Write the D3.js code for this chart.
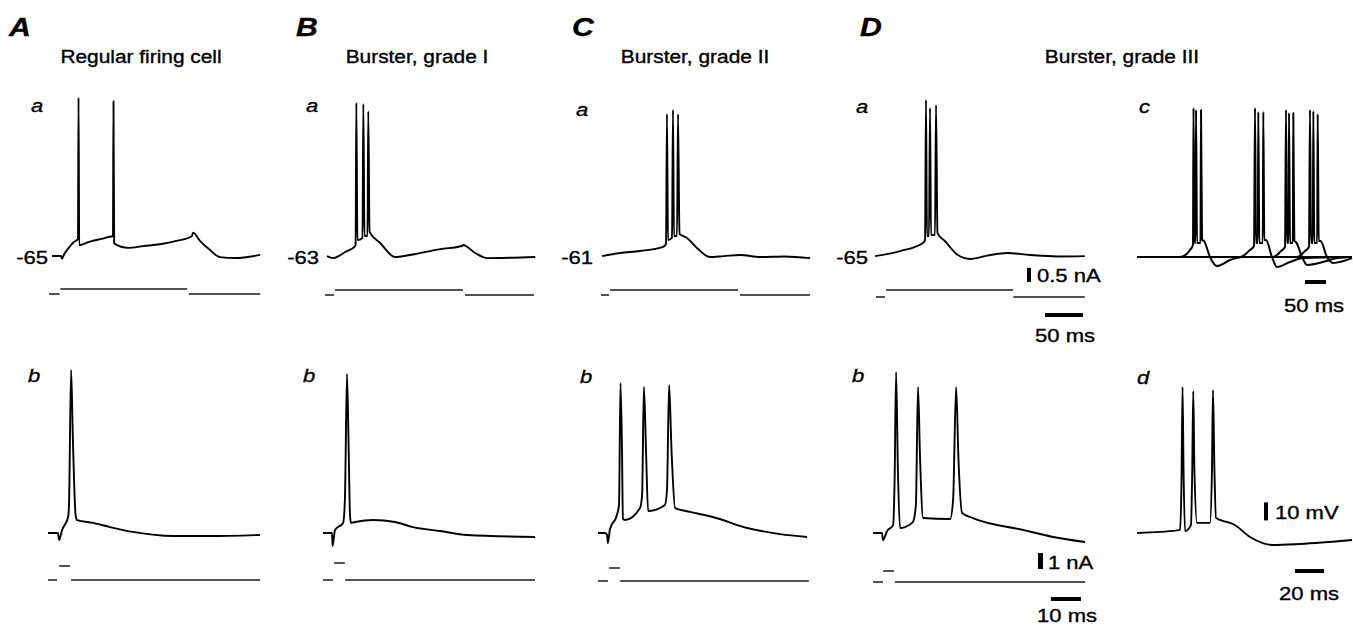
<html lang="en">
<head>
	<script src="https://cdn.jsdelivr.net/npm/d3@7/dist/d3.min.js"></script>
	<style>
		body { margin: 0; background: #fff; }
		text { font-family: "Liberation Sans", Arial, sans-serif; fill: #000; stroke: #000; stroke-width: 0.35px; }
	</style>
</head>
<body>
	<script type="text/javascript">
		var w = 1353;
		var h = 627;

		// column headings
		var columnLetters = ["A", "B", "C", "D"];
		var columnTitles = ["Regular firing cell", "Burster, grade I", "Burster, grade II", "Burster, grade III"];
		var restPotentials = [-65, -63, -61, -65]; // mV, top row

		// voltage traces: [time (ms), mV above rest]
		var traceAa = [[0,0],[12,0],[13,-1.5],[16,1],[22,4.5],[28,7.5],[34.2,9.5],[34.9,88],[35.8,6],[50,8],[65,9.5],[80,11],[80.2,11],[80.9,86],[81.8,7],[100,4.5],[120,5.5],[142,6.5],[165,8.5],[184,11],[185.5,13],[195,8.3],[208,3.3],[221,-0.6],[241,-1.1],[274,0.6]];
		var traceBa = [[0,0.5],[8,-0.6],[24,2.8],[37,6.1],[37.6,7],[38.6,85.6],[40,9.4],[46.7,10.6],[47.8,85],[49.3,11.7],[53.3,11.7],[54.3,81],[56,14],[70,7.8],[89.5,0],[109,1.1],[149,4.4],[177.6,6.1],[179,6.7],[195,2.2],[210.5,-0.6],[274,0]];
		var traceCa = [[0,0.5],[24,2.2],[50,3.3],[80.3,5.6],[84.2,7.2],[85.5,79.4],[86.8,9.4],[92.1,10.6],[93.4,81.7],[94.7,11.7],[98.7,11.7],[100,79.4],[102,12.8],[111.8,10.6],[125,5],[142,0],[160,0.5],[181.6,1.1],[208,0],[240,0.3],[273.7,-0.6]];
		var traceDa = [[0,0.5],[33,3.3],[63,7.8],[65.8,9.4],[67.1,87.2],[68.4,11.7],[71,11.7],[72.4,82.8],[73.7,12.2],[78.9,12.2],[80.3,84.4],[82.2,13.3],[92,8.9],[109,1.1],[125,-1.1],[150,1],[174,2.2],[204,1.1],[240,0.3],[276,0.5]];

		var traceAb = [[0,0],[3.3,0],[3.7,-3.9],[4.7,1.7],[6.7,8.9],[7,15.6],[7.7,90.6],[8.3,51.7],[9.2,10],[9.7,7.2],[15,5.6],[20.7,3.3],[28.3,0.6],[41.7,-1.7],[54,-1.7],[70.7,-1.1]];
		var traceBb = [[0,0],[3,0],[3.2,-7.2],[4,1.7],[6.7,5.6],[7.3,18.3],[8,88.3],[8.5,51.7],[9,10],[9.3,5.6],[10.7,6.1],[16.7,7.2],[24,6.1],[30,3.3],[39,1.1],[48,-1.1],[70.7,-2.2]];
		var traceCb = [[0,0],[2.3,0],[3,-1],[3.3,-5.6],[4,2.2],[6.3,10],[7,15.6],[7.5,83.3],[8,46],[8.3,7.8],[9,7.2],[14,13.9],[14.7,21.1],[15.3,81.1],[16,46.1],[16.7,12.2],[22.3,15.6],[23,23.9],[23.7,82.2],[24.5,46.1],[25.7,13.9],[30.7,11.7],[38.3,8.9],[49.7,2.8],[60.7,-0.6],[69.7,-2.2]];
		var traceDb = [[0,0],[3,0],[3.3,-3.9],[4.7,1.1],[6.7,4.4],[7.2,29.4],[7.7,89.4],[8.3,35],[9,2.8],[10.7,3.3],[13.3,6.1],[14.3,15.6],[15,81.1],[15.7,40.6],[16.7,8.3],[25.7,7.8],[26.7,18.3],[27.7,81.1],[28.5,40.6],[29.7,11.1],[33.3,8.3],[50,1.7],[60,-2.2],[70.7,-5]];

		// D c: four superimposed sweeps
		var sweepDc1 = [[0,0],[102.4,0],[126.2,3.9],[133.3,6.7],[134.5,82.8],[136.9,7.8],[139.3,7.8],[140.5,81.7],[142.9,7.8],[151.2,7.8],[152.4,81.7],[154.8,9.4],[159.5,8.9],[173.8,0],[190.5,-5],[221.4,-1.7],[252.4,0],[511.9,0]];
		var sweepDc2 = [[0,0],[245.2,0],[269,3.9],[278.6,6.1],[281,82.8],[283.3,7.8],[287.6,7.8],[288.8,80.6],[291.2,7.8],[299.5,7.8],[300.7,80.6],[303.1,9.4],[307.1,9.4],[321.4,0],[333.3,-5.6],[364.3,-2.8],[395.2,-0.6],[511.9,0]];
		var sweepDc3 = [[0,0],[323.8,0],[342.9,3.3],[352.4,5.6],[354.8,81.7],[357.1,7.8],[360.7,7.8],[361.9,80],[364.3,7.8],[371,7.8],[372.1,80],[374.5,8.9],[378.6,8.3],[392.9,0],[404.8,-4.4],[442.9,-2.8],[476.2,-0.6],[511.9,0]];
		var sweepDc4 = [[0,0],[381,0],[400,3.3],[409.5,5.6],[411.9,81.7],[414.3,7.8],[418.6,7.8],[419.8,81.1],[422.1,7.8],[429,7.8],[430.2,79.4],[432.6,8.9],[436.9,8.9],[452.4,0],[466.7,-3.3],[511.9,-0.6]];

		var traceDd = [[0,0],[16,0.6],[29.7,1.7],[30.7,29.4],[31.4,81.1],[32.1,35],[33.1,1.1],[37.2,4.4],[38.1,35],[38.8,78.9],[39.6,35],[41.4,5.6],[50.3,5.6],[51.7,35],[52.4,79.4],[53.4,35],[54.5,8.3],[62,6.1],[66.2,5],[77.9,-2.2],[93.8,-6.7],[112.4,-6.1],[148.3,-3.9]];

		// injected current: [time (ms), nA], null = gap
		var currentAa = [[-4,0],[10,0],null,[11,0.18],[178,0.18],null,[180,0],[274,0]];
		var currentBa = [[-2.6,0],[9.2,0],null,[10.5,0.18],[179,0.18],null,[181.6,0],[272.4,0]];
		var currentCa = [[-1.3,0],[9.2,0],null,[10.5,0.18],[179,0.18],null,[181.6,0],[273.7,0]];
		var currentDa = [[1.3,0],[13.2,0],null,[14.5,0.25],[181.6,0.25],null,[182,0],[276,0]];
		var currentAb = [[0,0],[3,0],null,[3.7,0.88],[7.3,0.88],null,[7.7,0],[70.7,0]];
		var currentBb = [[0,0],[3.3,0],null,[3.7,1.06],[7.3,1.06],null,[7.4,0],[70.7,0]];
		var currentCb = [[0,0],[3.3,0],null,[3.7,0.81],[7.3,0.81],null,[7.4,0],[70.3,0]];
		var currentDb = [[0,0],[3.3,0],null,[3.4,0.69],[7,0.69],null,[7.3,0],[70.7,0]];

		// scale bars
		var barCurrentTop = 0.5, barCurrentBottom = 1; // nA
		var barTimeTop = 50, barTimeC = 50, barTimeBottom = 10, barTimeD = 20; // ms
		var barVoltage = 10; // mV

		var svg = d3.select("body")
				.append("svg")
				.attr("width", w)
				.attr("height", h);

		var pxPerMV = 1.8;

		// panel layout: x0 = pixel of t=0, kx = px per ms, y0 = pixel of rest, i0 = pixel of 0 nA, ki = px per nA
		var panels = [
			{id:"Aa", traces:[traceAa], current:currentAa, x0:52,  kx:0.76, y0:256, i0:294, ki:28},
			{id:"Ba", traces:[traceBa], current:currentBa, x0:327, kx:0.76, y0:257, i0:295, ki:28},
			{id:"Ca", traces:[traceCa], current:currentCa, x0:602, kx:0.76, y0:257, i0:295, ki:28},
			{id:"Da", traces:[traceDa], current:currentDa, x0:875, kx:0.76, y0:257, i0:297, ki:28},
			{id:"Dc", traces:[sweepDc1, sweepDc2, sweepDc3, sweepDc4], x0:1137, kx:0.42, y0:257, sw:2},
			{id:"Ab", traces:[traceAb], current:currentAb, x0:48,  kx:3, y0:533, i0:580, ki:16},
			{id:"Bb", traces:[traceBb], current:currentBb, x0:323, kx:3, y0:533, i0:580, ki:16},
			{id:"Cb", traces:[traceCb], current:currentCb, x0:598, kx:3, y0:533, i0:581, ki:16},
			{id:"Db", traces:[traceDb], current:currentDb, x0:873, kx:3, y0:533, i0:582, ki:16},
			{id:"Dd", traces:[traceDd], x0:1137, kx:1.45, y0:533}
		];

		var scales = {};
		panels.forEach(function(p) {
			var x = d3.scaleLinear().domain([0, 100]).range([p.x0, p.x0 + 100 * p.kx]);
			var y = d3.scaleLinear().domain([0, 10]).range([p.y0, p.y0 - 10 * pxPerMV]);
			var g = svg.append("g").attr("class", "panel-" + p.id);
			var vline = d3.line()
				.curve(d3.curveMonotoneX)
				.x(function(d){ return x(d[0]); })
				.y(function(d){ return y(d[1]); });
			g.selectAll("path.v")
				.data(p.traces)
				.enter()
				.append("path")
				.attr("class", "v")
				.attr("d", vline)
				.attr("fill", "none")
				.attr("stroke", "#000")
				.attr("stroke-width", p.sw || 1.9)
				.attr("stroke-linejoin", "round");
			var yi = null;
			if (p.current) {
				yi = d3.scaleLinear().domain([0, 1]).range([p.i0, p.i0 - p.ki]);
				var iline = d3.line()
					.defined(function(d){ return d != null; })
					.x(function(d){ return x(d[0]); })
					.y(function(d){ return yi(d[1]); });
				g.append("path")
					.attr("d", iline(p.current))
					.attr("fill", "none")
					.attr("stroke", "#1a1a1a")
					.attr("stroke-width", 1.5);
			}
			scales[p.id] = {x: x, y: y, yi: yi};
		});

		function label(txt, x, y, opt) {
			opt = opt || {};
			svg.append("text")
				.attr("transform", "translate(" + x + "," + y + ") scale(1.16,1)")
				.attr("text-anchor", opt.anchor || "start")
				.style("font-size", (opt.size || 19) + "px")
				.style("font-style", opt.italic ? "italic" : "normal")
				.style("font-weight", opt.bold ? "bold" : "normal")
				.text(txt);
		}

		// column letters and titles
		var letterX = [9, 296, 572, 860];
		var titleX = [141, 417, 695, 1122];
		columnLetters.forEach(function(l, i) {
			label(l, letterX[i], 36, {size: 26, italic: true, bold: true});
			label(columnTitles[i], titleX[i], 63, {size: 18, anchor: "middle"});
		});

		// row labels
		var subLabels = [
			["a", 31, 112], ["a", 306, 112], ["a", 576, 116], ["a", 856, 113], ["c", 1139, 113],
			["b", 28, 382], ["b", 303, 382], ["b", 580, 383], ["b", 852, 382], ["d", 1137, 384]
		];
		subLabels.forEach(function(s) { label(s[0], s[1], s[2], {italic: true}); });

		// resting potentials
		var restX = [48, 319, 593, 868];
		restPotentials.forEach(function(v, i) { label(String(v), restX[i], 264, {anchor: "end"}); });

		// scale bars, drawn through the panel scales
		function bar(x1, y1, x2, y2) {
			svg.append("rect")
				.attr("x", Math.min(x1, x2)).attr("y", Math.min(y1, y2))
				.attr("width", Math.max(Math.abs(x2 - x1), 4))
				.attr("height", Math.max(Math.abs(y2 - y1), 4))
				.attr("fill", "#000");
		}
		var sDa = scales.Da, sDc = scales.Dc, sDb = scales.Db, sDd = scales.Dd;
		// 0.5 nA
		var yiTop = sDa.yi(1.04);
		bar(1027, yiTop, 1031, yiTop + Math.abs(sDa.yi(barCurrentTop) - sDa.yi(0)));
		label(barCurrentTop + " nA", 1037, 282);
		// 50 ms (a)
		var tDa = 223.7;
		bar(sDa.x(tDa), 313, sDa.x(tDa + barTimeTop), 317);
		label(barTimeTop + " ms", 1065, 342, {anchor: "middle"});
		// 50 ms (c)
		var tDc = 400;
		bar(sDc.x(tDc), 280, sDc.x(tDc + barTimeC), 284);
		label(barTimeC + " ms", 1314, 312, {anchor: "middle"});
		// 1 nA
		var yiBot = sDb.yi(1.81);
		bar(1038, yiBot, 1043, yiBot + Math.abs(sDb.yi(barCurrentBottom) - sDb.yi(0)));
		label(barCurrentBottom + " nA", 1048, 569);
		// 10 ms
		var tDb = 59.3;
		bar(sDb.x(tDb), 597, sDb.x(tDb + barTimeBottom), 601);
		label(barTimeBottom + " ms", 1067, 622, {anchor: "middle"});
		// 10 mV
		var vDd = 7;
		bar(1264, sDd.y(vDd + barVoltage), 1268, sDd.y(vDd));
		label(barVoltage + " mV", 1275, 519);
		// 20 ms
		var tDd = 109;
		bar(sDd.x(tDd), 569, sDd.x(tDd + barTimeD), 573);
		label(barTimeD + " ms", 1309, 600, {anchor: "middle"});
	</script>
</body>
</html>
